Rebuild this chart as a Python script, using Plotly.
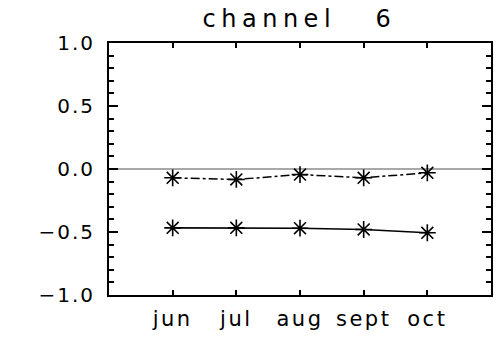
import plotly.graph_objects as go

# Monthly values for channel 6
month_num = [6, 7, 8, 9, 10]
month_labels = ["jun", "jul", "aug", "sept", "oct"]
series_dashed = [-0.07, -0.083, -0.044, -0.07, -0.03]
series_solid = [-0.467, -0.467, -0.47, -0.48, -0.506]

y_ticks = [-1.0, -0.5, 0.0, 0.5, 1.0]
y_ticklabels = ["\u22121.0", "\u22120.5", "0.0", "0.5", "1.0"]

font_family = "DejaVu Sans"


def spaced(text, px):
    return f'<span style="letter-spacing:{px}px">{text}</span>'


fig = go.Figure()

marker_style = dict(symbol="asterisk-open", size=14, color="black",
                    line=dict(color="black", width=1.6))

fig.add_trace(go.Scatter(
    x=month_num, y=series_dashed, mode="lines+markers",
    line=dict(color="black", width=1.5, dash="dashdot"),
    marker=marker_style, showlegend=False,
))
fig.add_trace(go.Scatter(
    x=month_num, y=series_solid, mode="lines+markers",
    line=dict(color="black", width=1.6),
    marker=marker_style, showlegend=False,
))

fig.update_layout(
    width=499, height=340,
    margin=dict(l=109, r=6, t=43, b=45),
    paper_bgcolor="white", plot_bgcolor="white",
    font=dict(family=font_family, color="black"),
    title=dict(text=spaced("channel\u00a0\u00a0\u00a06", 5.5), x=0.6, xanchor="center",
               y=0.945, yanchor="middle",
               font=dict(size=24, family=font_family, color="black")),
)

fig.update_xaxes(
    range=[5, 11], tickvals=month_num,
    ticktext=[spaced(t, 2.5) for t in month_labels],
    ticks="inside", ticklen=5, tickwidth=1.5, tickcolor="black",
    showline=True, linecolor="black", linewidth=2, mirror="ticks",
    showgrid=False, zeroline=False,
    tickfont=dict(size=21, family=font_family), ticklabelstandoff=4,
)
fig.update_yaxes(
    range=[-1, 1], tickvals=y_ticks,
    ticktext=[spaced(t, 2) for t in y_ticklabels],
    ticks="inside", ticklen=9, tickwidth=1.5, tickcolor="black",
    minor=dict(dtick=0.1, ticks="inside", ticklen=5, tickwidth=1.5, tickcolor="black"),
    showline=True, linecolor="black", linewidth=2, mirror="ticks",
    showgrid=False, zeroline=True, zerolinecolor="#a8a8a8", zerolinewidth=1.5,
    tickfont=dict(size=20, family=font_family), ticklabelstandoff=8,
)

fig.write_html("out.html")
